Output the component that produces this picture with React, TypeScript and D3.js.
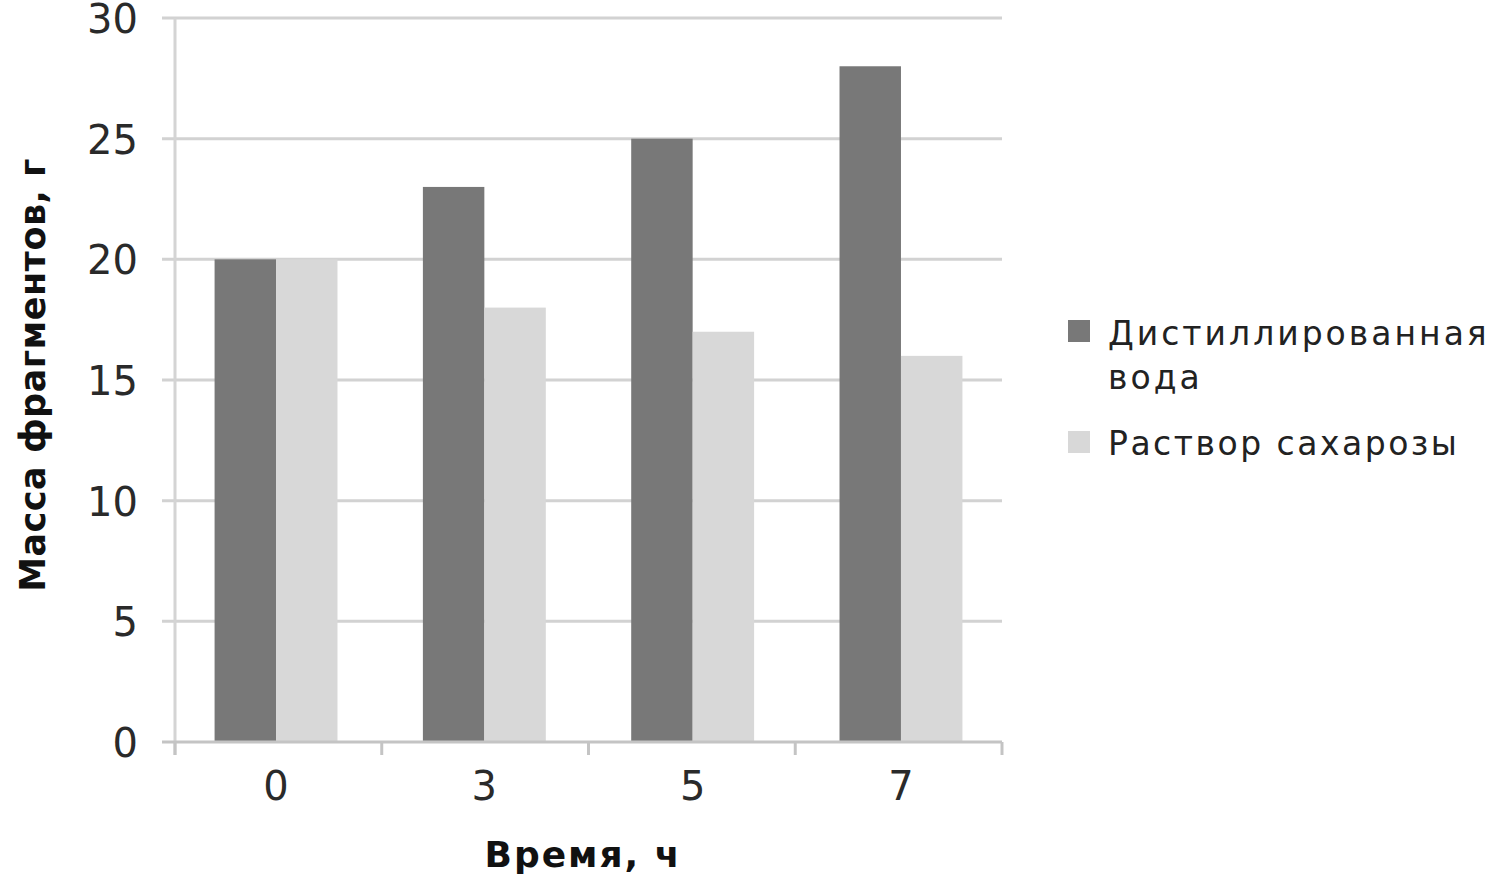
import * as d3 from 'd3';

const categories = ['0', '3', '5', '7'];
const seriesNames = ['Дистиллированная вода', 'Раствор сахарозы'];
const distilledWater = [20, 23, 25, 28];
const sucroseSolution = [20, 18, 17, 16];
const yTicks = [0, 5, 10, 15, 20, 25, 30];

const colors = ['#787878', '#d8d8d8'];

export default function App() {
  const width = 1500;
  const height = 882;
  const left = 175;
  const right = 1002;
  const top = 18;
  const bottom = 742;

  const x = d3.scaleBand<string>().domain(categories).range([left, right]).paddingInner(0.41).paddingOuter(0.19);
  const sub = d3.scaleBand<number>().domain([0, 1]).range([0, x.bandwidth()]);
  const y = d3.scaleLinear().domain([0, 30]).range([bottom, top]);

  const series = [distilledWater, sucroseSolution];
  const step = (right - left) / categories.length;
  const tickXs = d3.range(categories.length + 1).map((i) => left + i * step);

  return (
    <svg width={width} height={height} style={{ position: 'absolute', left: 0, top: 0, background: '#fff' }}>
      {/* grid */}
      {yTicks.slice(1).map((t) => (
        <line key={t} x1={162} x2={right} y1={y(t)} y2={y(t)} stroke="#d2d2d2" strokeWidth={3} />
      ))}
      {/* y axis line */}
      <line x1={left} x2={left} y1={top} y2={bottom + 13} stroke="#d4d4d4" strokeWidth={3} />

      {/* bars */}
      {categories.map((c, i) => (
        <g key={c}>
          {series.map((vals, s) => (
            <rect
              key={s}
              x={(x(c) ?? 0) + (sub(s) ?? 0)}
              y={y(vals[i])}
              width={sub.bandwidth()}
              height={y(0) - y(vals[i])}
              fill={colors[s]}
            />
          ))}
        </g>
      ))}

      {/* x axis */}
      <line x1={162} x2={right} y1={bottom} y2={bottom} stroke="#c4c4c4" strokeWidth={3} />
      {tickXs.map((tx, i) => (
        <line key={i} x1={tx} x2={tx} y1={bottom} y2={bottom + 13} stroke="#c4c4c4" strokeWidth={3} />
      ))}

      {/* y tick labels */}
      {yTicks.map((t) => (
        <text key={t} x={138} y={y(t) + 15} textAnchor="end" fontFamily="DejaVu Sans" fontSize={40} fill="#2a2a2a">
          {t}
        </text>
      ))}

      {/* x tick labels */}
      {categories.map((c) => (
        <text
          key={c}
          x={(x(c) ?? 0) + x.bandwidth() / 2}
          y={800}
          textAnchor="middle"
          fontFamily="DejaVu Sans"
          fontSize={40}
          fill="#2a2a2a"
        >
          {c}
        </text>
      ))}

      {/* axis titles */}
      <text
        x={583}
        y={867}
        textAnchor="middle"
        fontFamily="DejaVu Sans"
        fontWeight="bold"
        fontSize={36}
        letterSpacing={2}
        fill="#111"
      >
        Время, ч
      </text>
      <text
        transform={`translate(45,375) rotate(-90)`}
        textAnchor="middle"
        fontFamily="DejaVu Sans"
        fontWeight="bold"
        fontSize={35}
        letterSpacing={0.5}
        fill="#111"
      >
        Масса фрагментов, г
      </text>

      {/* legend */}
      <rect x={1068} y={320} width={22} height={22} fill={colors[0]} />
      <text x={1108} y={345} fontFamily="DejaVu Sans" fontSize={33} letterSpacing={3} fill="#222">
        Дистиллированная
      </text>
      <text x={1108} y={389} fontFamily="DejaVu Sans" fontSize={33} letterSpacing={3} fill="#222">
        вода
      </text>
      <rect x={1068} y={431} width={22} height={22} fill={colors[1]} />
      <text x={1108} y={455} fontFamily="DejaVu Sans" fontSize={33} letterSpacing={2.5} fill="#222">
        {seriesNames[1]}
      </text>
    </svg>
  );
}
